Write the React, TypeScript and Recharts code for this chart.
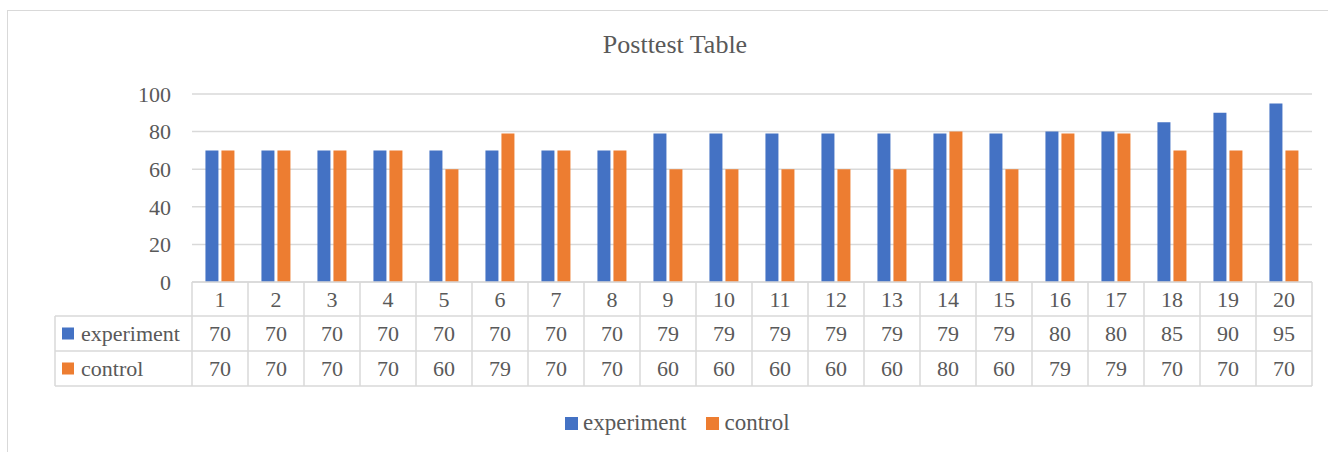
import { BarChart, Bar, CartesianGrid, XAxis, YAxis } from 'recharts';

const categories = ['1', '2', '3', '4', '5', '6', '7', '8', '9', '10', '11', '12', '13', '14', '15', '16', '17', '18', '19', '20'];
const experiment = [70, 70, 70, 70, 70, 70, 70, 70, 79, 79, 79, 79, 79, 79, 79, 80, 80, 85, 90, 95];
const control = [70, 70, 70, 70, 60, 79, 70, 70, 60, 60, 60, 60, 60, 80, 60, 79, 79, 70, 70, 70];
const yTicks = [0, 20, 40, 60, 80, 100];

const seriesNames = ['experiment', 'control'];
const colors = ['#4472C4', '#ED7D31'];

const data = categories.map((name, i) => ({ name, experiment: experiment[i], control: control[i] }));

const FONT = '"Liberation Serif", "DejaVu Serif", serif';
const TEXT = '#595959';
const LINE = '#d9d9d9';

const W = 1330;
const H = 445;
const M = { top: 83, right: 26, bottom: 0, left: 0 };
const X_AXIS_H = 174;
const BAND = (W - 184 - M.right) / categories.length;
const ROW = [0, 34, 69, 104];
const TABLE_LEFT = 47;

function TableTick(props: any) {
  const { x, y, payload } = props;
  const i = payload.index;
  const half = BAND / 2;
  const rowVals = [experiment[i], control[i]];
  return (
    <g>
      <line x1={x + half} x2={x + half} y1={y} y2={y + ROW[3]} stroke={LINE} strokeWidth={1.5} />
      {i === 0 && (
        <line x1={x - half} x2={x - half} y1={y} y2={y + ROW[3]} stroke={LINE} strokeWidth={1.5} />
      )}
      {i === 0 && (
        <g>
          <line x1={TABLE_LEFT} x2={TABLE_LEFT} y1={y + ROW[1]} y2={y + ROW[3]} stroke={LINE} strokeWidth={1.5} />
          {[1, 2, 3].map((r) => (
            <line key={r} x1={TABLE_LEFT} x2={x - half} y1={y + ROW[r]} y2={y + ROW[r]} stroke={LINE} strokeWidth={1.5} />
          ))}
          {seriesNames.map((s, k) => (
            <g key={s}>
              <rect x={TABLE_LEFT + 7} y={y + (ROW[k + 1] + ROW[k + 2]) / 2 - 6} width={12} height={12} fill={colors[k]} />
              <text
                x={TABLE_LEFT + 26}
                y={y + (ROW[k + 1] + ROW[k + 2]) / 2}
                dominantBaseline="central"
                fill={TEXT}
                fontSize={22}
                fontFamily={FONT}
              >
                {s}
              </text>
            </g>
          ))}
        </g>
      )}
      {[1, 2, 3].map((r) => (
        <line key={r} x1={x - half} x2={x + half} y1={y + ROW[r]} y2={y + ROW[r]} stroke={LINE} strokeWidth={1.5} />
      ))}
      <text x={x} y={y + (ROW[0] + ROW[1]) / 2} textAnchor="middle" dominantBaseline="central" fill={TEXT} fontSize={22} fontFamily={FONT}>
        {payload.value}
      </text>
      {rowVals.map((v, k) => (
        <text
          key={k}
          x={x}
          y={y + (ROW[k + 1] + ROW[k + 2]) / 2}
          textAnchor="middle"
          dominantBaseline="central"
          fill={TEXT}
          fontSize={22}
          fontFamily={FONT}
        >
          {v}
        </text>
      ))}
    </g>
  );
}

export default function App() {
  return (
    <div
      style={{
        position: 'absolute',
        left: 7,
        top: 10,
        width: W,
        height: H,
        border: `1px solid ${LINE}`,
        background: '#fff',
        fontFamily: FONT,
      }}
    >
      <div
        style={{
          position: 'absolute',
          top: 19,
          left: 0,
          width: 1334,
          textAlign: 'center',
          fontSize: 26,
          color: TEXT,
        }}
      >
        Posttest Table
      </div>
      <BarChart width={W} height={H} data={data} margin={M} barCategoryGap="24%" barGap={3}>
        <CartesianGrid vertical={false} stroke={LINE} strokeWidth={1.5} />
        <XAxis
          dataKey="name"
          interval={0}
          tickLine={false}
          tickSize={0}
          tickMargin={0}
          axisLine={{ stroke: LINE, strokeWidth: 1.5 }}
          tick={<TableTick />}
          height={X_AXIS_H}
        />
        <YAxis
          domain={[0, 100]}
          ticks={yTicks}
          width={184}
          axisLine={false}
          tickLine={false}
          tickSize={0}
          tickMargin={21}
          tick={{ fill: TEXT, fontSize: 22, fontFamily: FONT }}
        />
        <Bar dataKey="experiment" fill={colors[0]} isAnimationActive={false} />
        <Bar dataKey="control" fill={colors[1]} isAnimationActive={false} />
      </BarChart>
      <div
        style={{
          position: 'absolute',
          top: 399,
          left: 557,
          display: 'flex',
          alignItems: 'center',
          fontSize: 23,
          color: TEXT,
          whiteSpace: 'nowrap',
        }}
      >
        {seriesNames.map((s, k) => (
          <div key={s} style={{ display: 'flex', alignItems: 'center', marginRight: 20 }}>
            <span style={{ display: 'inline-block', width: 13, height: 13, background: colors[k], marginRight: 5 }} />
            <span>{s}</span>
          </div>
        ))}
      </div>
    </div>
  );
}
